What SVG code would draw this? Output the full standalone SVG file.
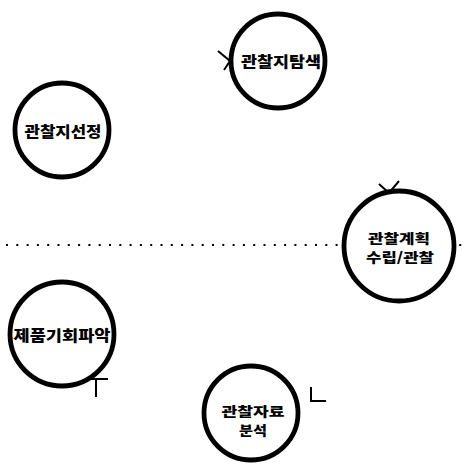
<svg xmlns="http://www.w3.org/2000/svg" width="465" height="465" viewBox="0 0 465 465">
<style>
.node circle{fill:#fff;stroke:#000;stroke-width:4.8}
.node text{font-family:"Noto Sans CJK KR","Noto Sans",sans-serif;font-weight:900;font-size:15px;fill:#000;text-anchor:middle}
.node text.s{font-size:13px}
.tick{fill:none;stroke:#000;stroke-width:2}
.dots{stroke:#000;stroke-width:2.2;stroke-dasharray:2 8.3;fill:none}
</style>
<rect width="465" height="465" fill="#fff"/>
<g id="connectors">
<line class="dots" x1="6" y1="245" x2="465" y2="245"/>
</g>
<g id="n1" class="node">
<circle cx="278" cy="61" r="47"/>
<text x="281" y="67" textLength="80" lengthAdjust="spacingAndGlyphs">관찰지탐색</text>
<path class="tick" d="M218 51 L230 61 L224 70"/>
</g>
<g id="n2" class="node">
<circle cx="62" cy="130" r="47"/>
<text x="63" y="137" textLength="77" lengthAdjust="spacingAndGlyphs">관찰지선정</text>
</g>
<g id="n3" class="node">
<circle cx="399" cy="246" r="55"/>
<text class="s" x="399" y="243" textLength="62" lengthAdjust="spacingAndGlyphs">관찰계획</text>
<text class="s" x="400" y="262" textLength="68" lengthAdjust="spacingAndGlyphs">수립/관찰</text>
<path class="tick" d="M379 184 L389 193 L399 181"/>
</g>
<g id="n4" class="node">
<circle cx="62" cy="334" r="52"/>
<text x="62" y="341" textLength="97" lengthAdjust="spacingAndGlyphs">제품기회파악</text>
<path class="tick" d="M88 379 L108 379 M96 379 L96 397"/>
</g>
<g id="n5" class="node">
<circle cx="251" cy="413" r="47"/>
<text class="s" x="253" y="416" textLength="63" lengthAdjust="spacingAndGlyphs">관찰자료</text>
<text class="s" x="253" y="435" textLength="28" lengthAdjust="spacingAndGlyphs">분석</text>
<path class="tick" d="M311 387 L311 401 L326 401"/>
</g>
</svg>
